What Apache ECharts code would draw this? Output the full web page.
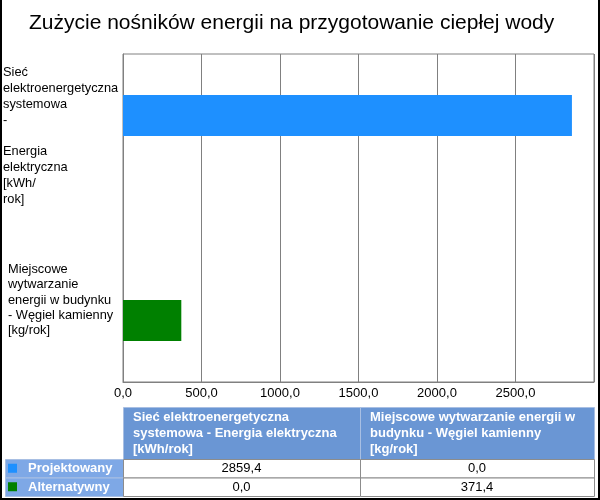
<!DOCTYPE html>
<html>
<head>
<meta charset="utf-8">
<script src="https://cdn.jsdelivr.net/npm/echarts@6/dist/echarts.min.js"></script>
<style>
  html, body { margin: 0; padding: 0; background: #fff; }
  #chart { width: 600px; height: 500px; }
</style>
</head>
<body>
<div id="chart"></div>
<script>
// ---- data ----
const chartTitle = 'Zużycie nośników energii na przygotowanie ciepłej wody';
const categories = [
  'Sieć elektroenergetyczna systemowa - Energia elektryczna [kWh/rok]',
  'Miejscowe wytwarzanie energii w budynku - Węgiel kamienny [kg/rok]'
];
const axisLabelLines = [
  ['Sieć', 'elektroenergetyczna', 'systemowa', '-', '', 'Energia', 'elektryczna', '[kWh/', 'rok]'],
  ['Miejscowe', 'wytwarzanie', 'energii w budynku', '- Węgiel kamienny', '[kg/rok]']
];
const tableHeaderLines = [
  ['Sieć elektroenergetyczna', 'systemowa - Energia elektryczna', '[kWh/rok]'],
  ['Miejscowe wytwarzanie energii w', 'budynku - Węgiel kamienny', '[kg/rok]']
];
const seriesNames = ['Projektowany', 'Alternatywny'];
const seriesColors = ['#1E90FF', '#008000'];
const projektowany = [2859.4, 0.0];
const alternatywny = [0.0, 371.4];
const xMin = 0, xMax = 3000, xInterval = 500;

const fmt = v => v.toFixed(1).replace('.', ',');
const FONT = 'Liberation Sans, Arial, sans-serif';

// ---- layout ----
const G = { left: 123, right: 6, top: 54, bottom: 118 };
const T = {
  headerTop: 407, headerBottom: 459, rowH: 18.5,
  labelLeft: 5, col0: 123, col1: 360, col2: 594
};

const chart = echarts.init(document.getElementById('chart'), null, { renderer: 'canvas' });

const allSeries = [projektowany, alternatywny];
const graphic = [];

// outer border
graphic.push({ type: 'rect', shape: { x: 0, y: 0, width: 2, height: 500 }, style: { fill: '#000' }, silent: true });
graphic.push({ type: 'rect', shape: { x: 598, y: 0, width: 2, height: 500 }, style: { fill: '#000' }, silent: true });
graphic.push({ type: 'rect', shape: { x: 0, y: 498, width: 600, height: 2 }, style: { fill: '#000' }, silent: true });

// table header
const colX = [T.col0, T.col1, T.col2];
for (let c = 0; c < 2; c++) {
  graphic.push({
    type: 'rect',
    shape: { x: colX[c] + 0.5, y: T.headerTop + 0.5, width: colX[c + 1] - colX[c], height: T.headerBottom - T.headerTop },
    style: { fill: '#6A96D4', stroke: '#A8BFE3', lineWidth: 1 }, silent: true
  });
  graphic.push({
    type: 'text', x: colX[c] + 10, y: T.headerTop + 2,
    style: {
      text: tableHeaderLines[c].join('\n'), fill: '#fff',
      font: 'bold 13px ' + FONT, lineHeight: 16, textVerticalAlign: 'top'
    }, silent: true
  });
}
// table rows
for (let r = 0; r < seriesNames.length; r++) {
  const y0 = T.headerBottom + r * T.rowH;
  graphic.push({
    type: 'rect',
    shape: { x: T.labelLeft + 0.5, y: y0 + 0.5, width: T.col0 - T.labelLeft, height: T.rowH },
    style: { fill: '#7EA8E6', stroke: '#A8BFE3', lineWidth: 1 }, silent: true
  });
  graphic.push({
    type: 'rect',
    shape: { x: 8, y: y0 + T.rowH / 2 - 4.5, width: 9, height: 9 },
    style: { fill: seriesColors[r] }, silent: true
  });
  graphic.push({
    type: 'text', x: 28, y: y0 + T.rowH / 2 + 0.5,
    style: { text: seriesNames[r], fill: '#fff', font: 'bold 13px ' + FONT, textVerticalAlign: 'middle' },
    silent: true
  });
  for (let c = 0; c < 2; c++) {
    graphic.push({
      type: 'rect',
      shape: { x: colX[c] + 0.5, y: y0 + 0.5, width: colX[c + 1] - colX[c], height: T.rowH },
      style: { fill: '#fff', stroke: '#8C8C8C', lineWidth: 1 }, silent: true
    });
    graphic.push({
      type: 'text', x: (colX[c] + colX[c + 1]) / 2, y: y0 + T.rowH / 2 + 0.5,
      style: {
        text: fmt(allSeries[r][c]), fill: '#000', font: '13px ' + FONT,
        textAlign: 'center', textVerticalAlign: 'middle'
      }, silent: true
    });
  }
}

const option = {
  backgroundColor: '#fff',
  animation: false,
  title: {
    text: chartTitle, left: 24, top: 8,
    textStyle: { fontFamily: FONT, fontSize: 21, fontWeight: 'normal', color: '#000' }
  },
  grid: {
    left: G.left, right: G.right, top: G.top, bottom: G.bottom,
    show: true, borderColor: '#808080', borderWidth: 1, containLabel: false
  },
  xAxis: {
    type: 'value', min: xMin, max: xMax, interval: xInterval,
    axisLine: { show: true, lineStyle: { color: '#808080' } },
    axisTick: { show: false },
    splitLine: { show: true, lineStyle: { color: '#808080', width: 1 } },
    axisLabel: {
      formatter: v => fmt(v), showMaxLabel: false, margin: 5,
      fontFamily: FONT, fontSize: 13, color: '#000'
    }
  },
  yAxis: {
    type: 'category', data: categories, inverse: true,
    axisLine: { show: true, lineStyle: { color: '#808080' } },
    axisTick: { show: false },
    splitLine: { show: false },
    axisLabel: {
      align: 'left', margin: 120, interval: 0,
      fontFamily: FONT, fontSize: 13, color: '#000', lineHeight: 15.6,
      formatter: (val, idx) => {
        const key = idx === 0 ? 'a' : 'b';
        return axisLabelLines[idx].map(l => '{' + key + '|' + (l === '' ? ' ' : l) + '}').join('\n');
      },
      rich: {
        a: { fontFamily: FONT, fontSize: 12.8, color: '#000', lineHeight: 15.8, padding: [0, 0, 0, 0] },
        b: { fontFamily: FONT, fontSize: 12.8, color: '#000', lineHeight: 15.2, padding: [0, 0, 0, 5] }
      }
    }
  },
  series: [
    {
      name: seriesNames[0], type: 'bar', data: projektowany,
      itemStyle: { color: seriesColors[0] },
      barGap: '0%', barCategoryGap: '50%'
    },
    {
      name: seriesNames[1], type: 'bar', data: alternatywny,
      itemStyle: { color: seriesColors[1] },
      barGap: '0%', barCategoryGap: '50%'
    }
  ],
  graphic: graphic
};

chart.setOption(option);
</script>
</body>
</html>
